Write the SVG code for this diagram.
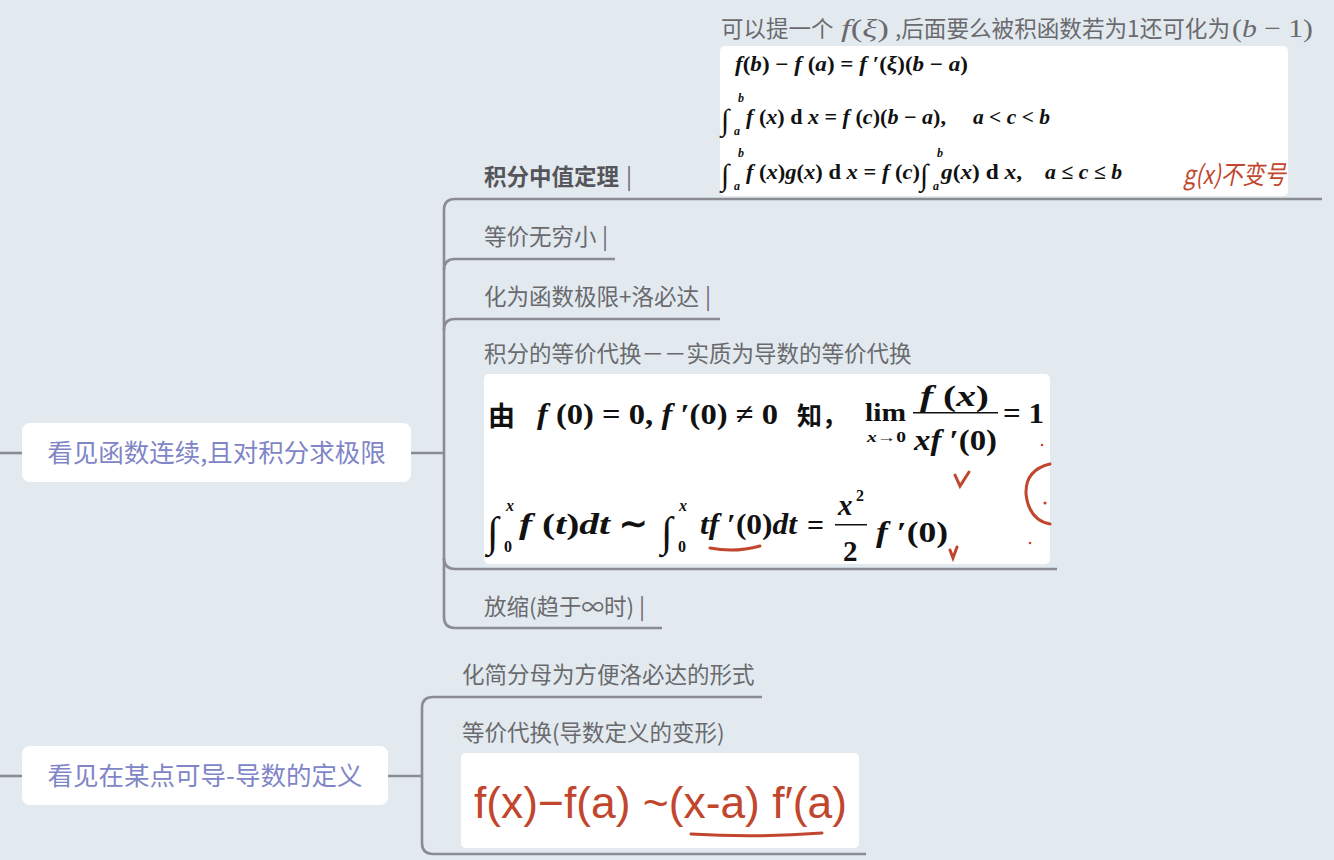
<svg xmlns="http://www.w3.org/2000/svg" width="1334" height="860" viewBox="0 0 1334 860">
<style>
.lbl{font-family:"Noto Sans CJK SC","Liberation Sans",sans-serif;font-size:22.5px;fill:#6a6a6e}
.lblb{font-family:"Noto Sans CJK SC","Liberation Sans",sans-serif;font-size:22.5px;fill:#55555a;font-weight:bold}
.node{fill:#ffffff}
.ntxt{font-family:"Noto Sans CJK SC","Liberation Sans",sans-serif;font-size:25.5px;fill:#8085c8;text-anchor:middle}
.con{fill:none;stroke:#8b8c92;stroke-width:2.6}
.img{fill:#ffffff}
.m{font-family:"Liberation Serif",serif;font-weight:bold;fill:#111}
.mi{font-style:italic}
.red{fill:#c1462d}
.rs{fill:none;stroke:#c1462d;stroke-width:3;stroke-linecap:round}
.note{font-family:"Noto Sans CJK SC","Liberation Sans",sans-serif;font-size:22.5px;fill:#6a6a6e}
.kt{font-family:"Liberation Serif",serif;font-size:26px;fill:#6a6a6e}
</style>
<rect width="1334" height="860" fill="#e2eaf0"/>

<g id="connectors">
  <path class="con" d="M0,453 H22"/>
  <path class="con" d="M411,453 H444"/>
  <path class="con" d="M444,210 V617"/>
  <path class="con" d="M444,210 Q444,199 455,199 H1322"/>
  <path class="con" d="M444,270 Q444,259 455,259 H615"/>
  <path class="con" d="M444,330 Q444,319 455,319 H720"/>
  <path class="con" d="M444,558 Q444,569 455,569 H1057"/>
  <path class="con" d="M444,617 Q444,628 455,628 H662"/>
  <path class="con" d="M0,776 H22"/>
  <path class="con" d="M388,776 H422"/>
  <path class="con" d="M422,708 V843"/>
  <path class="con" d="M422,708 Q422,697 433,697 H762"/>
  <path class="con" d="M422,843 Q422,854 433,854 H866"/>
</g>

<g id="node-continuous">
  <rect class="node" x="22" y="423" width="389" height="59" rx="8"/>
  <text class="ntxt" x="216.5" y="462">看见函数连续,且对积分求极限</text>
</g>

<g id="node-mvt">
  <text class="lblb" x="484" y="185">积分中值定理</text>
  <text class="lbl" x="626" y="185">|</text>
  <text class="note" x="721" y="37">可以提一个</text>
  <text class="kt" x="841" y="37" textLength="48" lengthAdjust="spacingAndGlyphs"><tspan font-style="italic">f</tspan>(<tspan font-style="italic">ξ</tspan>)</text>
  <text class="note" x="895" y="37" textLength="335" lengthAdjust="spacingAndGlyphs">,后面要么被积函数若为1还可化为</text>
  <text class="kt" x="1232" y="37" textLength="81" lengthAdjust="spacingAndGlyphs">(<tspan font-style="italic">b</tspan> − 1)</text>
  <rect class="img" x="720" y="46" width="568" height="150" rx="5"/>
  <text class="m" x="735" y="71" font-size="21" textLength="233" lengthAdjust="spacingAndGlyphs"><tspan class="mi">f</tspan>(<tspan class="mi">b</tspan>) − <tspan class="mi">f</tspan> (<tspan class="mi">a</tspan>) = <tspan class="mi">f</tspan> ′(<tspan class="mi">ξ</tspan>)(<tspan class="mi">b</tspan> − <tspan class="mi">a</tspan>)</text>
  <text class="m" x="721" y="130" font-size="30">∫</text>
  <text class="m mi" x="738" y="102" font-size="12">b</text>
  <text class="m mi" x="734" y="135" font-size="12">a</text>
  <text class="m" x="746" y="124" font-size="21" textLength="200" lengthAdjust="spacingAndGlyphs"><tspan class="mi">f</tspan> (<tspan class="mi">x</tspan>) d <tspan class="mi">x</tspan> = <tspan class="mi">f</tspan> (<tspan class="mi">c</tspan>)(<tspan class="mi">b</tspan> − <tspan class="mi">a</tspan>),</text>
  <text class="m mi" x="973" y="124" font-size="21" textLength="77" lengthAdjust="spacingAndGlyphs">a &lt; c &lt; b</text>
  <text class="m" x="721" y="185" font-size="30">∫</text>
  <text class="m mi" x="738" y="157" font-size="12">b</text>
  <text class="m mi" x="734" y="190" font-size="12">a</text>
  <text class="m" x="746" y="179" font-size="21" textLength="174" lengthAdjust="spacingAndGlyphs"><tspan class="mi">f</tspan> (<tspan class="mi">x</tspan>)<tspan class="mi">g</tspan>(<tspan class="mi">x</tspan>) d <tspan class="mi">x</tspan> = <tspan class="mi">f</tspan> (<tspan class="mi">c</tspan>)</text>
  <text class="m" x="920" y="185" font-size="30">∫</text>
  <text class="m mi" x="937" y="157" font-size="12">b</text>
  <text class="m mi" x="933" y="190" font-size="12">a</text>
  <text class="m" x="941" y="179" font-size="21" textLength="81" lengthAdjust="spacingAndGlyphs"><tspan class="mi">g</tspan>(<tspan class="mi">x</tspan>) d <tspan class="mi">x</tspan>,</text>
  <text class="m mi" x="1045" y="179" font-size="21" textLength="77" lengthAdjust="spacingAndGlyphs">a ≤ c ≤ b</text>
  <text class="red" x="1183" y="184" font-family="Noto Sans CJK SC,sans-serif" font-size="26" font-style="italic" textLength="103" lengthAdjust="spacingAndGlyphs">g(x)不变号</text>
</g>

<g id="node-equiv-inf">
  <text class="lbl" x="484" y="245">等价无穷小</text>
  <text class="lbl" x="602" y="245">|</text>
</g>

<g id="node-lhopital">
  <text class="lbl" x="484" y="305">化为函数极限+洛必达</text>
  <text class="lbl" x="705" y="305">|</text>
</g>

<g id="node-int-equiv">
  <text class="lbl" x="484" y="362">积分的等价代换－－实质为导数的等价代换</text>
  <rect class="img" x="484" y="374" width="566" height="190" rx="5"/>
  <text x="488" y="426" font-family="Noto Sans CJK SC,sans-serif" font-size="27" font-weight="bold" fill="#111">由</text>
  <text class="m" x="537" y="424" font-size="30" textLength="241" lengthAdjust="spacingAndGlyphs"><tspan class="mi">f</tspan> (0) = 0, <tspan class="mi">f</tspan> ′(0) ≠ 0</text>
  <text x="797" y="425" font-family="Noto Sans CJK SC,sans-serif" font-size="25" font-weight="bold" fill="#111">知，</text>
  <text class="m" x="865" y="421" font-size="25" textLength="41" lengthAdjust="spacingAndGlyphs">lim</text>
  <text class="m" x="867" y="442" font-size="14" textLength="39" lengthAdjust="spacingAndGlyphs"><tspan class="mi">x</tspan>→0</text>
  <text class="m" x="920" y="406" font-size="29" textLength="69" lengthAdjust="spacingAndGlyphs"><tspan class="mi">f</tspan> (<tspan class="mi">x</tspan>)</text>
  <rect x="913" y="412" width="85" height="1.5" fill="#111"/>
  <text class="m" x="914" y="450" font-size="29" textLength="83" lengthAdjust="spacingAndGlyphs"><tspan class="mi">xf</tspan> ′(0)</text>
  <text class="m" x="1003" y="423" font-size="29" textLength="41" lengthAdjust="spacingAndGlyphs">= 1</text>
  <text class="m" x="487" y="546" font-size="42">∫</text>
  <text class="m mi" x="506" y="511" font-size="16">x</text>
  <text class="m" x="504" y="552" font-size="16">0</text>
  <text class="m" x="519" y="534" font-size="30" textLength="91" lengthAdjust="spacingAndGlyphs"><tspan class="mi">f</tspan> (<tspan class="mi">t</tspan>)<tspan class="mi">dt</tspan></text>
  <text class="m" x="619" y="535" font-size="34" font-weight="normal">∼</text>
  <text class="m" x="661" y="546" font-size="42">∫</text>
  <text class="m mi" x="679" y="511" font-size="16">x</text>
  <text class="m" x="678" y="552" font-size="16">0</text>
  <text class="m" x="700" y="534" font-size="30" textLength="97" lengthAdjust="spacingAndGlyphs"><tspan class="mi">tf</tspan> ′(0)<tspan class="mi">dt</tspan></text>
  <text class="m" x="807" y="535" font-size="30">=</text>
  <text class="m mi" x="838" y="515" font-size="29">x</text>
  <text class="m" x="856" y="501" font-size="16">2</text>
  <rect x="835" y="524" width="32" height="1.5" fill="#111"/>
  <text class="m" x="843" y="561" font-size="29">2</text>
  <text class="m" x="876" y="542" font-size="30" textLength="72" lengthAdjust="spacingAndGlyphs"><tspan class="mi">f</tspan> ′(0)</text>
  <path class="rs" d="M710,548 Q735,553 760,546" stroke-width="2.4"/>
  <path class="rs" d="M955,475 L960,486 L969,472" stroke-width="2.2"/>
  <path class="rs" d="M950,550 L953,558 L957,547" stroke-width="2.2"/>
  <path class="rs" d="M1050,464 Q1025,470 1026,494 Q1029,520 1050,524" stroke-width="2.2"/>
  <circle class="red" cx="1042" cy="445" r="1.3"/>
  <circle class="red" cx="1045" cy="503" r="1.6"/>
  <circle class="red" cx="1030" cy="543" r="1.3"/>
</g>

<g id="node-squeeze">
  <text class="lbl" x="484" y="615">放缩(趋于∞时)</text>
  <text class="lbl" x="639" y="615">|</text>
</g>

<g id="node-derivative">
  <rect class="node" x="22" y="746" width="366" height="59" rx="8"/>
  <text class="ntxt" x="205" y="785">看见在某点可导-导数的定义</text>
</g>

<g id="node-simplify">
  <text class="lbl" x="462" y="683">化简分母为方便洛必达的形式</text>
</g>

<g id="node-def-equiv">
  <text class="lbl" x="462" y="741">等价代换(导数定义的变形)</text>
  <rect class="img" x="461" y="753" width="398" height="95" rx="5"/>
  <text class="red" x="474" y="818" font-family="Liberation Sans Narrow,Liberation Sans,sans-serif" font-size="44" textLength="373" lengthAdjust="spacingAndGlyphs">f(x)−f(a) ~(x-a) f′(a)</text>
  <path class="rs" d="M691,834 Q755,838 822,833" stroke-width="3"/>
</g>
</svg>
